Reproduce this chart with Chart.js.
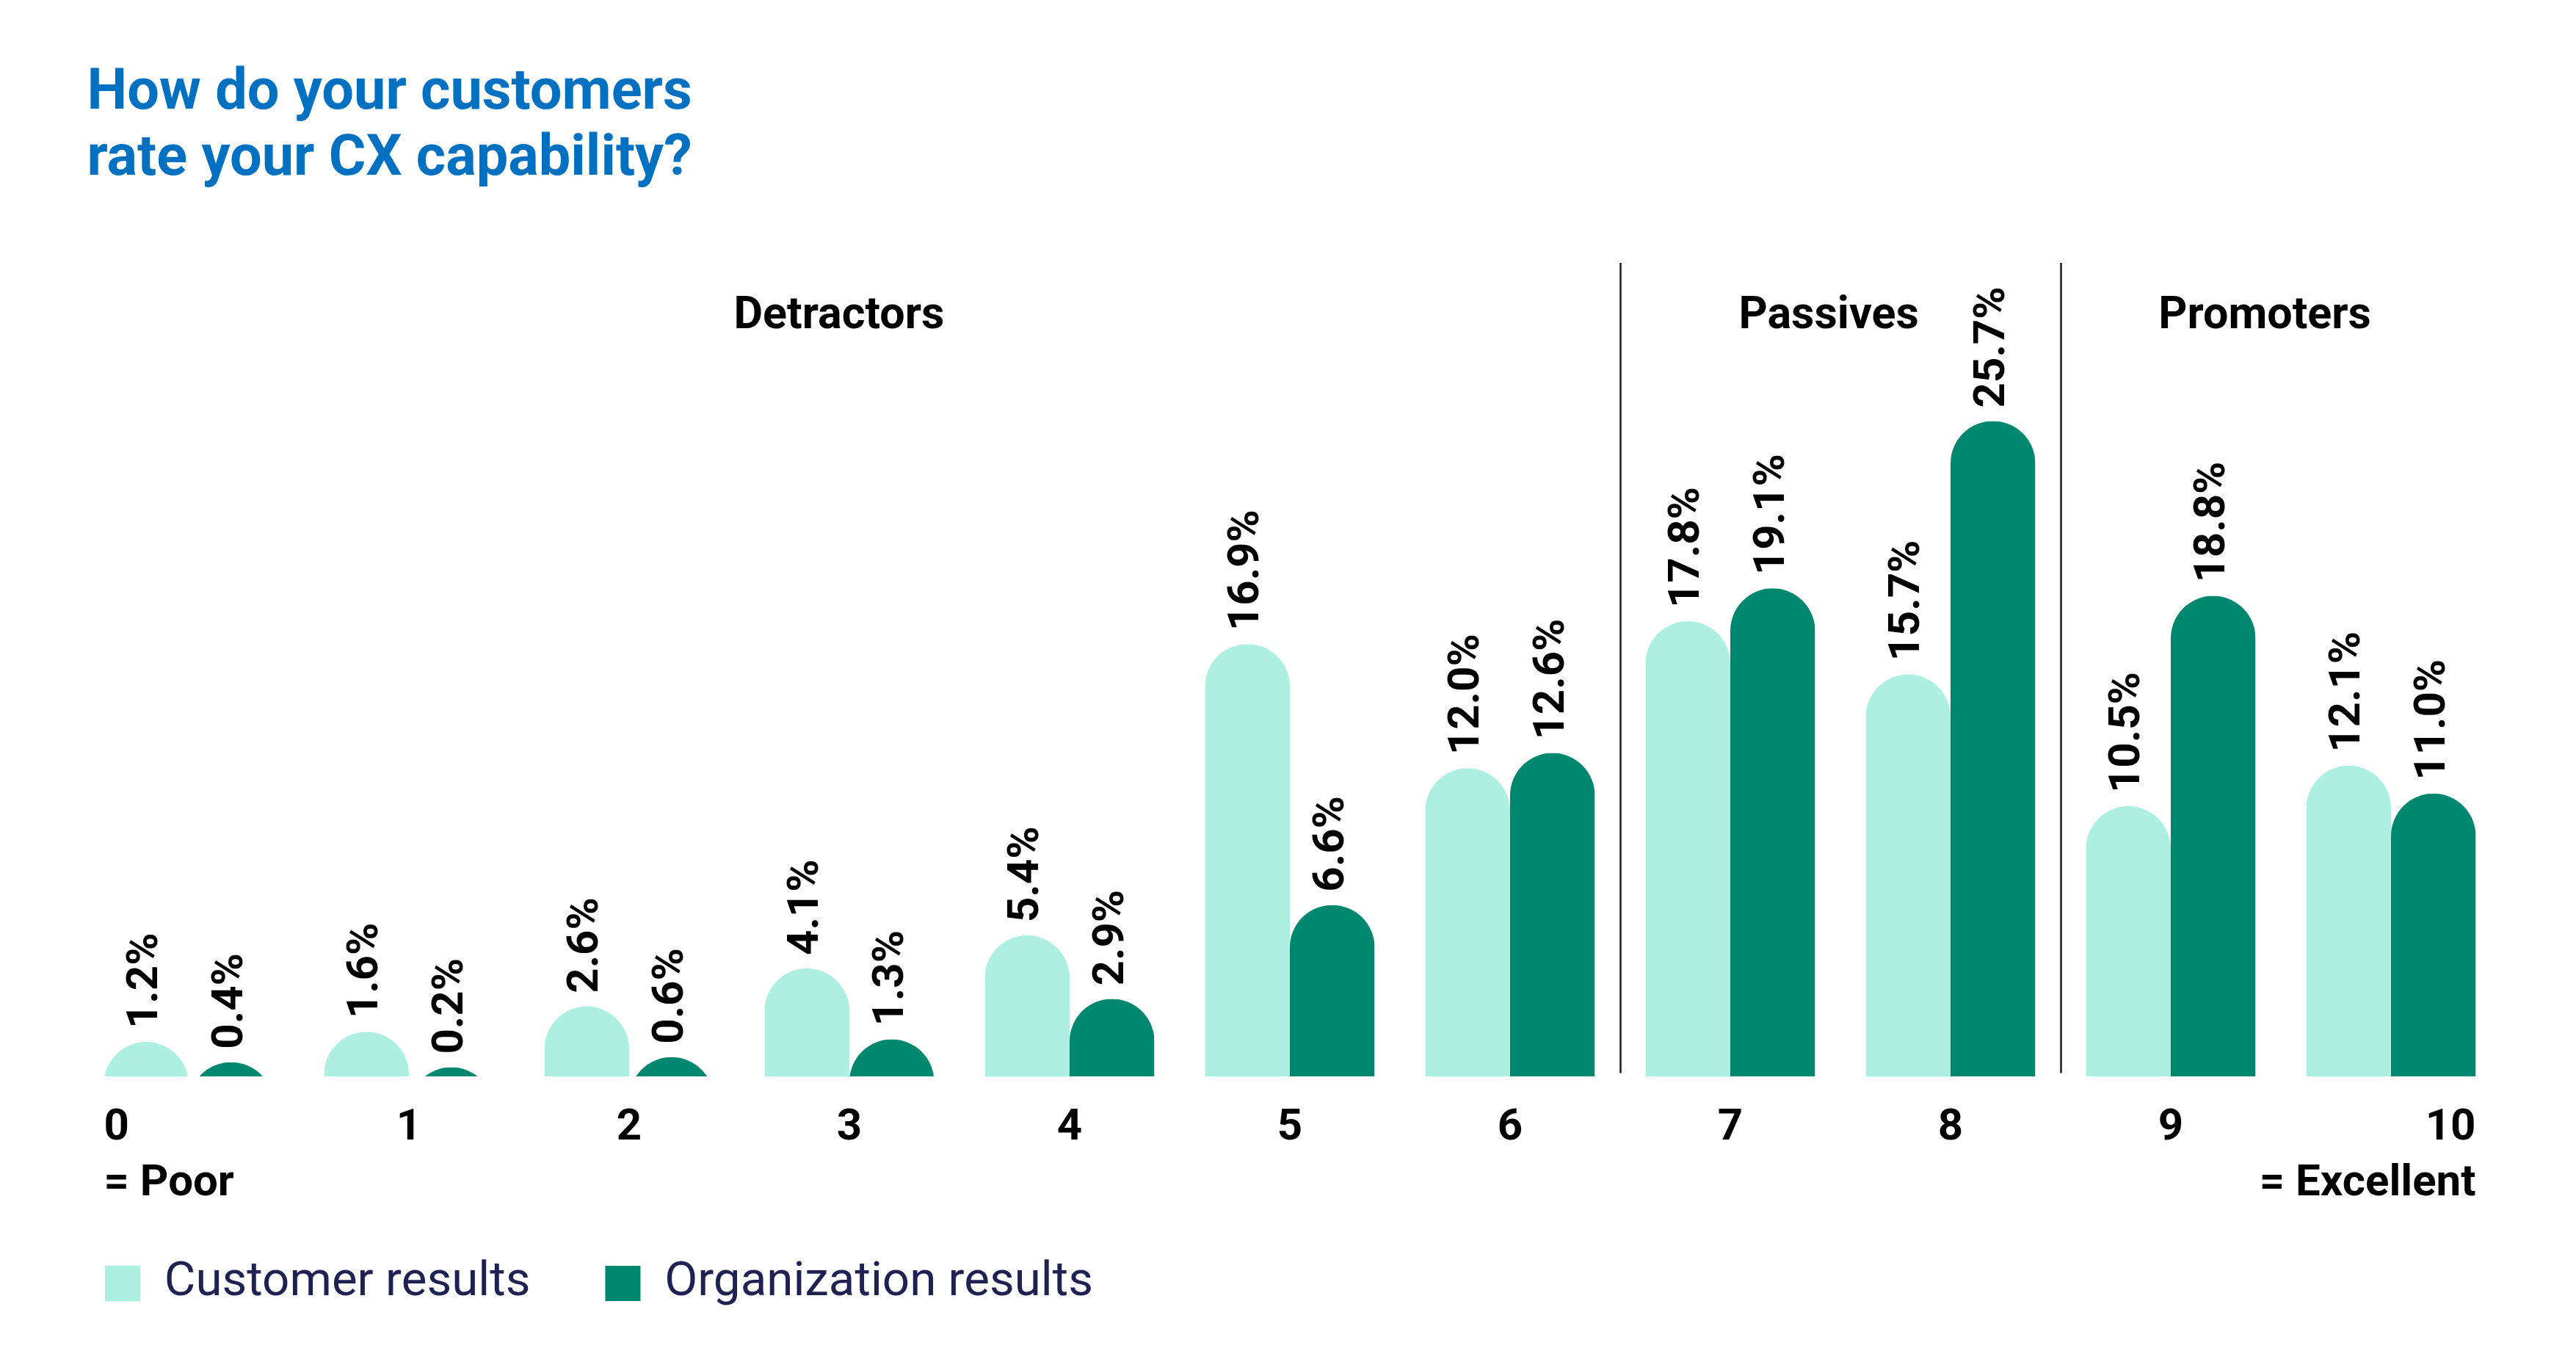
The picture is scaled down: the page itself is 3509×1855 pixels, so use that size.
<!DOCTYPE html>
<html>
<head>
<meta charset="utf-8">
<script src="https://cdn.jsdelivr.net/npm/chart.js@4.4.1/dist/chart.umd.min.js"></script>
<style>
  html, body { margin: 0; padding: 0; background: #ffffff; }
  #wrap { position: relative; width: 3509px; height: 1855px; overflow: hidden; background: #ffffff; }
  #title { position: absolute; left: 118.5px; top: 76.5px; margin: 0; font-family: Roboto, "Noto Sans", sans-serif; font-weight: 700; font-size: 77.5px; line-height: 90px; color: #0070C0; white-space: nowrap; }
  canvas { position: absolute; left: 0; top: 0; }
</style>
</head>
<body>
<div id="wrap">
  <canvas id="c" width="3509" height="1855"></canvas>
  <div id="title">How do your customers<br>rate your CX capability?</div>
</div>
<script>
// ---- data ----
const categories = ['0', '1', '2', '3', '4', '5', '6', '7', '8', '9', '10'];
const customerResults = [1.2, 1.6, 2.6, 4.1, 5.4, 16.9, 12.0, 17.8, 15.7, 10.5, 12.1];
const organizationResults = [0.4, 0.2, 0.6, 1.3, 2.9, 6.6, 12.6, 19.1, 25.7, 18.8, 11.0];
const seriesNames = ['Customer results', 'Organization results'];
const endLabels = ['= Poor', '= Excellent'];
const groupNames = ['Detractors', 'Passives', 'Promoters'];
const groupLabelAt = [2.953, 7.447, 9.427];
const groupDividers = [6.5, 8.5];

// ---- styles ----
const LIGHT = '#ADEFE1';
const DARK = '#00876F';
const Y_MIN = -0.16;
const Y_MAX = 32;
const TICK_PAD = 34.5;
const TICK_FONT = 60;
const TICK_LH = 72;

Chart.defaults.font.family = 'Roboto, "Noto Sans", sans-serif';

// Bars with a circular (dome) top, clipped at the base
Chart.BarElement.prototype.draw = function (ctx) {
  const p = this.getProps(['x', 'y', 'base', 'width']);
  const r = p.width / 2;
  const left = p.x - r;
  ctx.save();
  ctx.beginPath();
  ctx.rect(left, Math.min(p.y, p.base), p.width, Math.abs(p.base - p.y));
  ctx.clip();
  ctx.beginPath();
  ctx.moveTo(left, p.base);
  ctx.lineTo(left, p.y + r);
  ctx.arc(p.x, p.y + r, r, Math.PI, 0, false);
  ctx.lineTo(left + p.width, p.base);
  ctx.closePath();
  ctx.fillStyle = this.options.backgroundColor;
  ctx.fill();
  ctx.restore();
};

const decorPlugin = {
  id: 'decor',
  afterDatasetsDraw(chart) {
    const ctx = chart.ctx;
    const xs = chart.scales.x;
    const ys = chart.scales.y;
    const area = chart.chartArea;

    // value labels, rotated
    ctx.save();
    ctx.fillStyle = '#000000';
    ctx.font = '700 60px Roboto, "Noto Sans", sans-serif';
    ctx.textAlign = 'left';
    ctx.textBaseline = 'middle';
    chart.data.datasets.forEach((ds, di) => {
      const meta = chart.getDatasetMeta(di);
      meta.data.forEach((el, i) => {
        ctx.save();
        ctx.translate(el.x, el.y - 18);
        ctx.rotate(-Math.PI / 2);
        ctx.fillText(ds.data[i].toFixed(1) + '%', 0, 0);
        ctx.restore();
      });
    });
    ctx.restore();

    // dividers
    ctx.save();
    ctx.strokeStyle = '#1a1a1a';
    ctx.lineWidth = 2.5;
    groupDividers.forEach(v => {
      const x = Math.round(xs.getPixelForValue(v)) + 0.5;
      ctx.beginPath();
      ctx.moveTo(x, area.top + 2);
      ctx.lineTo(x, ys.getPixelForValue(0) + 1);
      ctx.stroke();
    });
    ctx.restore();

    // group headers
    ctx.save();
    ctx.fillStyle = '#000000';
    ctx.font = '700 61px Roboto, "Noto Sans", sans-serif';
    ctx.textAlign = 'center';
    ctx.textBaseline = 'alphabetic';
    groupNames.forEach((n, i) => {
      ctx.fillText(n, xs.getPixelForValue(groupLabelAt[i]), area.top + 91);
    });
    ctx.restore();

    // end tick labels (0 / 10 with captions)
    const m0 = chart.getDatasetMeta(0).data[0];
    const mLast = chart.getDatasetMeta(1).data[categories.length - 1];
    const leftX = m0.x - m0.width / 2;
    const rightX = mLast.x + mLast.width / 2;
    const y1 = xs.top + TICK_PAD + TICK_LH / 2;
    const y2 = y1 + 76;
    ctx.save();
    ctx.fillStyle = '#000000';
    ctx.font = '700 ' + TICK_FONT + 'px Roboto, "Noto Sans", sans-serif';
    ctx.textBaseline = 'middle';
    ctx.textAlign = 'left';
    ctx.fillText(categories[0], leftX, y1);
    ctx.fillText(endLabels[0], leftX, y2);
    ctx.textAlign = 'right';
    ctx.fillText(categories[categories.length - 1], rightX, y1);
    ctx.fillText(endLabels[1], rightX, y2);
    ctx.restore();
  }
};

new Chart(document.getElementById('c'), {
  type: 'bar',
  data: {
    labels: categories,
    datasets: [
      { label: seriesNames[0], data: customerResults, backgroundColor: LIGHT, borderWidth: 0, base: Y_MIN },
      { label: seriesNames[1], data: organizationResults, backgroundColor: DARK, borderWidth: 0, base: Y_MIN }
    ]
  },
  options: {
    responsive: false,
    animation: false,
    events: [],
    categoryPercentage: 0.77,
    barPercentage: 1.0,
    layout: { padding: { left: 41, right: 102, top: 356, bottom: 64.25 } },
    scales: {
      x: {
        grid: { display: false, drawTicks: false },
        border: { display: false },
        ticks: {
          autoSkip: false,
          maxRotation: 0,
          padding: TICK_PAD,
          color: '#000000',
          font: { size: TICK_FONT, weight: '700' },
          callback: (v, i) => (i === 0 || i === categories.length - 1) ? '' : categories[i]
        },
        afterFit: s => { s.height = 147.25; }
      },
      y: {
        min: Y_MIN,
        max: Y_MAX,
        grid: { display: false, drawTicks: false },
        border: { display: false },
        ticks: { display: false },
        afterFit: s => { s.width = 66; }
      }
    },
    plugins: {
      title: { display: false },
      tooltip: { enabled: false },
      legend: {
        display: true,
        position: 'bottom',
        align: 'start',
        labels: {
          boxWidth: 48,
          boxHeight: 48,
          padding: 102,
          color: '#1F2152',
          font: { size: 65.5, weight: '400' }
        }
      }
    }
  },
  plugins: [decorPlugin]
});
</script>
</body>
</html>
